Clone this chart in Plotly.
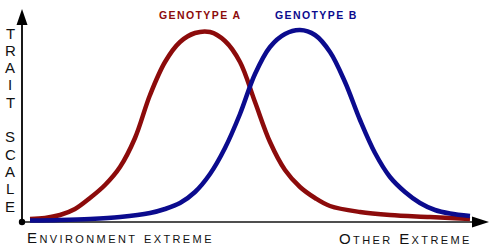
import plotly.graph_objects as go

# Environment position (x) and trait value (y)
geno_a_x = [8, 23, 38, 53, 68, 83, 98, 113, 128, 143, 158, 173, 188, 203, 218, 233, 248, 263, 278, 293, 308, 338, 368, 408, 448]
geno_a_y = [3, 4, 7, 13, 24, 37, 55, 84, 127, 160, 180, 189, 190, 181, 160, 120, 80, 52, 35, 24, 16, 10, 7, 5, 3]

geno_b_x = [8, 38, 68, 98, 128, 143, 158, 173, 188, 203, 218, 233, 248, 263, 278, 293, 308, 323, 338, 353, 368, 383, 398, 413, 428, 448]
geno_b_y = [1.5, 2, 3, 5, 9, 13, 19, 30, 48, 74, 108, 148, 175, 188, 192, 187, 170, 140, 102, 69, 45, 30, 19, 12, 8.5, 6]

series_names = ["GENOTYPE A", "GENOTYPE B"]
y_label = "TRAIT SCALE"
x_left_label = "Environment extreme"
x_right_label = "Other Extreme"

RED = "#8c0b0b"
BLUE = "#0b0b8e"
FONT = "Liberation Sans, Arial"

fig = go.Figure()
fig.add_trace(go.Scatter(x=geno_a_x, y=geno_a_y, mode="lines",
                         line=dict(color=RED, width=4.5, shape="spline", smoothing=1),
                         name=series_names[0], hoverinfo="skip"))
fig.add_trace(go.Scatter(x=geno_b_x, y=geno_b_y, mode="lines",
                         line=dict(color=BLUE, width=4.5, shape="spline", smoothing=1),
                         name=series_names[1], hoverinfo="skip"))

X_END = 467
Y_END = 213
shapes = [
    dict(type="line", x0=0, y0=0, x1=X_END - 16, y1=0, line=dict(color="#151515", width=1.6), layer="below"),
    dict(type="line", x0=0, y0=0, x1=0, y1=Y_END - 15, line=dict(color="#000", width=1.8), layer="below"),
    dict(type="path", path=f"M {X_END-17},-5.5 L {X_END-17},5.5 L {X_END},0 Z",
         fillcolor="#000", line=dict(width=0)),
    dict(type="path", path=f"M -5.5,{Y_END-16} L 5.5,{Y_END-16} L 0,{Y_END} Z",
         fillcolor="#000", line=dict(width=0)),
    dict(type="circle", x0=-3.2, y0=-3.2, x1=3.2, y1=3.2, fillcolor="#000", line=dict(width=0)),
]

annotations = []
# vertical stacked y-axis title
for i, ch in enumerate(y_label):
    if ch == " ":
        continue
    annotations.append(dict(x=-12, y=189 - i * 17.3, text=ch, showarrow=False,
                            xanchor="center", yanchor="middle",
                            font=dict(family=FONT, size=15, color="#111")))

annotations += [
    dict(x=3, y=-15, text=f'<span style="letter-spacing:2.4px">{x_left_label}</span>', showarrow=False,
         xanchor="left", yanchor="middle",
         font=dict(family=FONT, size=15, color="#111", variant="small-caps")),
    dict(x=452, y=-16, text=f'<span style="letter-spacing:2.4px">{x_right_label}</span>', showarrow=False,
         xanchor="right", yanchor="middle",
         font=dict(family=FONT, size=15, color="#111", variant="small-caps")),
    dict(x=178, y=207, text=f'<span style="letter-spacing:1.4px">{series_names[0]}</span>', showarrow=False,
         xanchor="center", yanchor="middle",
         font=dict(family=FONT, size=10.5, color=RED, weight="bold")),
    dict(x=294, y=207, text=f'<span style="letter-spacing:1.4px">{series_names[1]}</span>', showarrow=False,
         xanchor="center", yanchor="middle",
         font=dict(family=FONT, size=10.5, color=BLUE, weight="bold")),
]

fig.update_layout(
    width=500, height=248,
    margin=dict(l=0, r=0, t=0, b=0),
    paper_bgcolor="white", plot_bgcolor="white",
    showlegend=False,
    xaxis=dict(range=[-22, 478], visible=False, fixedrange=True),
    yaxis=dict(range=[-26, 222], visible=False, fixedrange=True),
    shapes=shapes,
    annotations=annotations,
)

fig.write_html("out.html")
